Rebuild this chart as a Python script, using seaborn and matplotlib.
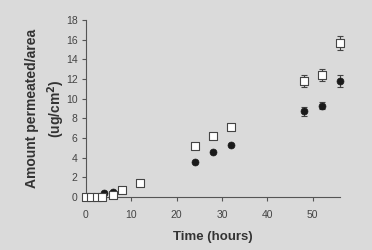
import pandas as pd
import seaborn as sns
import numpy as np
import matplotlib.pyplot as plt

# values
sq_time = [0, 1.2, 2.4, 3.5, 6, 8, 12, 24, 28, 32, 48, 52, 56]
sq_amount = [0, 0, 0, 0, 0.2, 0.7, 1.4, 5.2, 6.2, 7.1, 11.8, 12.4, 15.7]
sq_err = [0, 0, 0, 0, 0, 0, 0, 0, 0, 0, 0.6, 0.6, 0.7]

ci_time = [4, 6, 24, 28, 32, 48, 52, 56]
ci_amount = [0.45, 0.55, 3.6, 4.6, 5.3, 8.7, 9.3, 11.8]
ci_err = [0, 0, 0, 0, 0, 0.5, 0.4, 0.6]

bg = '#dadada'
txt = '#333333'

sns.set_style('ticks')
plt.rcParams['font.family'] = ['Liberation Sans', 'DejaVu Sans']

fig = plt.figure(figsize=(3.72, 2.5), dpi=100, facecolor=bg)
ax = fig.add_axes([0.231, 0.212, 0.683, 0.708], facecolor=bg)

sq = pd.DataFrame({'time': sq_time, 'amount': sq_amount, 'err': sq_err})
ci = pd.DataFrame({'time': ci_time, 'amount': ci_amount, 'err': ci_err})

# error bars first, markers on top
ax.errorbar(ci['time'], ci['amount'], yerr=ci['err'], fmt='none', ecolor='#444444',
            elinewidth=0.8, capsize=2.5, capthick=0.8, zorder=2, clip_on=False)
ax.errorbar(sq['time'], sq['amount'], yerr=sq['err'], fmt='none', ecolor='#444444',
            elinewidth=0.8, capsize=2.5, capthick=0.8, zorder=2, clip_on=False)

sns.scatterplot(data=ci, x='time', y='amount', ax=ax, marker='o', s=25,
                color='#1a1a1a', edgecolor='#1a1a1a', linewidth=0.5, zorder=3, clip_on=False)
sns.scatterplot(data=sq, x='time', y='amount', ax=ax, marker='s', s=32,
                color='white', edgecolor='#444444', linewidth=0.8, zorder=4, clip_on=False)

ax.set_xlim(0, 56)
ax.set_ylim(0, 18)
ax.set_xticks(np.arange(0, 51, 10))
ax.set_yticks(np.arange(0, 19, 2))
sns.despine(ax=ax)
for s in ['left', 'bottom']:
    ax.spines[s].set_color('#555555')
    ax.spines[s].set_linewidth(0.8)
ax.tick_params(axis='both', labelsize=7.5, colors='#555555', labelcolor='#444444',
               length=3, width=0.8)
ax.tick_params(axis='x', pad=6)
ax.tick_params(axis='y', pad=3)

ax.set_xlabel('Time (hours)', fontsize=9.5, fontweight='bold', color=txt, labelpad=8)
ax.set_ylabel('Amount permeated/area\n(ug/cm$^\\mathbf{2}$)', fontsize=10,
              fontweight='bold', color=txt, labelpad=-1, linespacing=1.45)

plt.savefig('out.png', dpi=100, facecolor=bg)
